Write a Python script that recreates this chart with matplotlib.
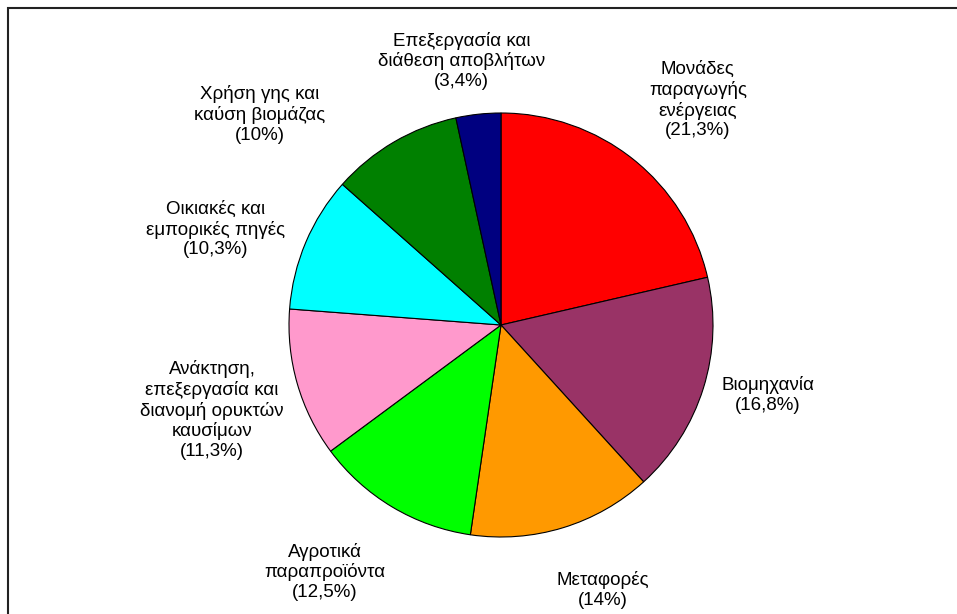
import numpy as np
import matplotlib.pyplot as plt
from matplotlib.patches import Rectangle

plt.rcParams['font.family'] = ['Liberation Sans', 'DejaVu Sans']

# Shares of emission sources (percent)
labels = ["Μονάδες\nπαραγωγής\nενέργειας", "Βιομηχανία", "Μεταφορές",
          "Αγροτικά\nπαραπροϊόντα",
          "Ανάκτηση,\nεπεξεργασία και\nδιανομή ορυκτών\nκαυσίμων",
          "Οικιακές και\nεμπορικές πηγές", "Χρήση γης και\nκαύση βιομάζας",
          "Επεξεργασία και\nδιάθεση αποβλήτων"]
values = [21.3, 16.8, 14, 12.5, 11.3, 10.3, 10, 3.4]
pct_text = ["21,3%", "16,8%", "14%", "12,5%", "11,3%", "10,3%", "10%", "3,4%"]
colors = ["#FF0000", "#993366", "#FF9900", "#00FF00",
          "#FF99CC", "#00FFFF", "#008000", "#000080"]

# label placement: distance from centre (in radii) and angle nudge (deg)
lab_r = [1.41, 1.30, 1.34, 1.43, 1.42, 1.42, 1.51, 1.26]
lab_da = [-2.7, 2.6, 4.0, -4.6, 0.3, 4.5, 18.5, 2.3]

W, H = 957, 614
cx, cy, R = 501, 325, 212                   # pie centre and radius in pixels

fig = plt.figure(figsize=(W / 100, H / 100), dpi=100)
ax = fig.add_axes([0, 0, 1, 1])

wedges, _ = ax.pie(values, colors=colors, startangle=90, counterclock=False,
                   wedgeprops=dict(edgecolor="black", linewidth=0.8))

for w, lab, pct, r, da in zip(wedges, labels, pct_text, lab_r, lab_da):
    ang = np.deg2rad((w.theta1 + w.theta2) / 2 + da)
    ax.text(r * np.cos(ang), r * np.sin(ang), lab + "\n(" + pct + ")",
            ha="center", va="center", fontsize=13.5, linespacing=1.2,
            color="black")

ax.set_xlim(-cx / R, (W - cx) / R)
ax.set_ylim(-(H - cy) / R, cy / R)
ax.set_aspect("auto")
ax.axis("off")

# outer frame (only the top and left edges fall inside the figure)
fig.patches.append(Rectangle((8 / W, -0.1), 1.1, 1.1 - 8 / H, fill=False,
                             edgecolor="#222222", linewidth=1.5,
                             transform=fig.transFigure, figure=fig))

fig.savefig("out.png", dpi=100)
